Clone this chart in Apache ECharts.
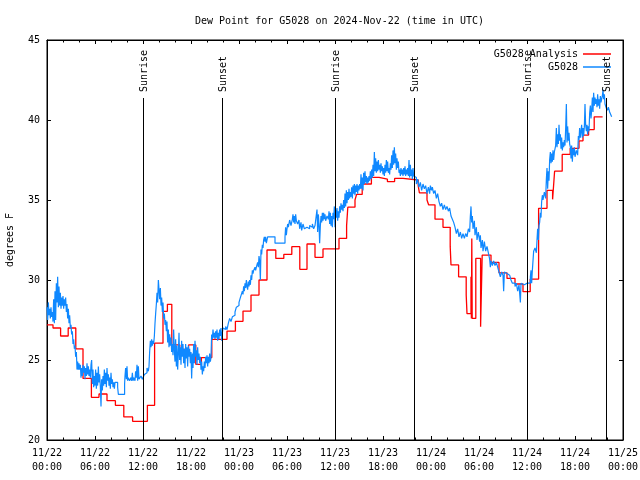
<!DOCTYPE html>
<html>
<head>
<meta charset="utf-8">
<script src="https://cdn.jsdelivr.net/npm/echarts@6/dist/echarts.min.js"></script>
<style>html,body{margin:0;padding:0;background:#fff}#c{width:640px;height:480px}</style>
</head>
<body>
<div id="c"></div>
<script>
// hours since 2024-11-22 00:00 UTC
const xTickLabels = ['11/22\n00:00','11/22\n06:00','11/22\n12:00','11/22\n18:00','11/23\n00:00','11/23\n06:00','11/23\n12:00','11/23\n18:00','11/24\n00:00','11/24\n06:00','11/24\n12:00','11/24\n18:00','11/25\n00:00'];
const seriesNames = ['G5028 Analysis', 'G5028'];
const sunHours = [12.0, 21.875, 36.0, 45.875, 60.0, 69.875];
const sunNames = ['Sunrise', 'Sunset', 'Sunrise', 'Sunset', 'Sunrise', 'Sunset'];

const analysisPts = [
[0,27.2],[0.75,27.0],[1.7,26.5],[2.65,27.0],[3.6,25.7],[4.5,23.85],[5.55,22.67],[6.5,22.875],[7.5,22.46],[8.55,22.17],[9.6,21.44],[10.7,21.17],
[12.55,22.17],[13.45,26.05],[14.5,28.04],[15.05,28.48],[15.6,25.94],[16.6,25.67],[17.7,25.94],[18.6,24.73],[19.3,25.15],[20.6,26.29],
[22.5,26.81],[23.55,27.42],[24.5,28.06],[25.5,29.06],[26.5,30.0],[27.5,31.875],[28.6,31.35],[29.6,31.6],[30.6,32.08],[31.6,30.67],
[32.5,32.25],[33.5,31.42],[34.5,31.94],[36.5,32.6],[37.45,33.4],[37.6,34.55],[38.5,35.0],[38.7,35.35],[39.4,36.0],[40.55,36.42],
[41.5,36.3],[42.55,36.15],[43.45,36.35],[44.5,36.25],[46.4,35.9],[46.55,35.45],[47.5,35.0],[47.7,34.7],[48.5,33.8],[49.5,33.29],
[50.4,32.1],[50.5,30.94],[51.45,30.2],[52.4,29.06],[52.5,27.9],[53.0,30.2],[53.05,27.6],[53.1,32.6],[53.15,27.6],[53.6,31.35],
[54.2,27.08],[54.4,31.56],[55.5,31.1],[56.5,30.45],[57.5,30.1],[58.5,29.75],[59.5,29.27],[60.4,30.06],[61.45,34.48],[62.5,35.6],
[63.2,35.04],[63.45,36.8],[64.4,37.85],[65.4,38.23],[66.5,38.7],[67.0,39.06],[67.7,39.4],[68.4,40.2],[69.45,40.2]
];

const obsPts = [
[0.00,28.3],[0.08,27.5],[0.17,28.6],[0.25,27.8],[0.33,28.2],[0.42,27.6],[0.50,28.3],[0.58,27.7],[0.67,28.0],[0.75,27.4],[0.83,28.8],[0.92,27.3],
[1.00,29.3],[1.08,27.5],[1.17,29.8],[1.25,28.6],[1.33,30.2],[1.42,28.3],[1.50,29.6],[1.58,28.4],[1.67,29.2],[1.75,28.2],[1.83,28.9],[1.92,28.4],
[2.00,29.0],[2.08,28.2],[2.17,28.8],[2.25,28.4],[2.33,28.9],[2.42,28.0],[2.50,28.5],[2.58,27.6],[2.67,28.2],[2.75,27.3],[2.83,27.8],[2.92,27.0],
[3.00,27.2],[3.08,26.6],[3.17,26.8],[3.25,26.0],[3.33,26.3],[3.42,25.7],[3.50,25.9],[3.58,25.2],[3.67,25.5],[3.75,24.4],[3.83,24.9],[3.92,24.4],
[4.00,24.8],[4.08,24.4],[4.17,24.7],[4.25,23.9],[4.33,24.5],[4.42,24.0],[4.50,24.7],[4.58,24.2],[4.67,24.6],[4.75,23.8],[4.83,24.5],[4.92,24.0],
[5.00,24.8],[5.08,24.1],[5.17,24.6],[5.25,24.0],[5.33,24.4],[5.42,23.9],[5.50,24.7],[5.58,25.0],[5.67,23.5],[5.75,24.4],[5.83,23.3],[5.92,24.0],
[6.00,23.4],[6.08,24.4],[6.17,23.2],[6.25,24.2],[6.33,23.4],[6.42,24.6],[6.50,23.6],[6.58,24.1],[6.67,23.3],[6.75,22.1],[6.83,23.8],[6.92,23.1],
[7.00,24.0],[7.08,23.4],[7.17,24.4],[7.25,23.5],[7.33,24.2],[7.42,23.3],[7.50,24.5],[7.58,23.7],[7.67,24.1],[7.75,23.4],[7.83,23.9],[7.92,23.2],
[8.00,24.2],[8.08,23.5],[8.17,23.8],[8.25,23.3],[8.33,23.6],[8.42,23.2],[8.50,23.6],[8.58,23.5],[8.67,23.6],[8.83,23.3],[8.92,22.85],
[9.70,23.5],[9.75,24.0],[9.83,24.5],[9.92,23.8],[10.00,24.6],[10.08,23.7],[10.17,23.9],[10.33,23.7],[10.50,23.9],[10.58,23.7],[10.67,24.2],[10.75,23.7],[10.83,23.9],
[11.00,23.7],[11.08,24.3],[11.17,23.9],[11.25,24.7],[11.33,23.7],[11.42,24.6],[11.50,23.8],[11.58,23.7],[11.75,24.0],[11.92,23.8],
[12.00,23.9],[12.17,24.1],[12.33,24.2],[12.50,24.5],[12.67,24.3],[12.75,24.6],[12.83,25.5],[12.92,26.2],
[13.00,25.8],[13.08,26.3],[13.17,25.9],[13.25,26.2],[13.33,26.0],[13.42,26.5],[13.50,27.3],[13.58,27.9],[13.67,28.5],[13.75,29.2],[13.83,28.6],[13.92,30.0],
[14.00,29.4],[14.08,28.8],[14.17,29.5],[14.25,28.4],[14.33,28.9],[14.42,28.0],[14.50,28.6],[14.58,27.6],[14.67,27.9],[14.75,27.2],[14.83,27.5],[14.92,26.8],
[15.00,27.4],[15.08,26.1],[15.17,26.9],[15.25,25.8],[15.33,26.6],[15.42,25.9],[15.50,26.4],[15.58,25.5],[15.67,26.0],[15.75,25.3],[15.83,26.9],[15.92,25.6],
[16.00,24.9],[16.08,26.3],[16.17,24.6],[16.25,25.9],[16.33,24.4],[16.42,25.4],[16.50,26.7],[16.58,25.0],[16.67,25.8],[16.75,24.7],[16.83,26.2],[16.92,25.2],
[17.00,26.0],[17.08,24.8],[17.17,25.7],[17.25,24.5],[17.33,26.0],[17.42,25.1],[17.50,25.8],[17.58,24.6],[17.67,25.9],[17.75,25.2],[17.83,25.7],[17.92,24.8],
[18.00,25.5],[18.08,23.85],[18.17,25.4],[18.25,24.5],[18.33,26.0],[18.42,24.8],[18.50,26.2],[18.58,25.2],[18.67,25.6],[18.75,24.7],[18.83,25.8],[18.92,25.0],
[19.00,25.4],[19.08,24.8],[19.17,25.2],[19.25,24.4],[19.33,24.9],[19.42,24.1],[19.50,24.6],[19.58,24.3],[19.67,24.9],[19.75,24.5],[19.83,25.2],[19.92,24.8],
[20.00,25.3],[20.08,24.6],[20.17,25.2],[20.25,24.8],[20.33,25.4],[20.42,24.9],[20.50,25.2],[20.58,26.6],[20.67,26.3],[20.75,26.9],[20.83,26.4],[20.92,26.7],
[21.00,26.3],[21.08,26.8],[21.17,26.4],[21.25,26.9],[21.33,26.2],[21.42,26.7],[21.50,26.3],[21.58,26.9],[21.67,26.5],[21.75,27.0],[21.83,26.2],[21.92,26.7],
[22.00,27.0],[22.17,26.9],[22.33,27.1],[22.50,26.9],[22.67,27.3],[22.83,27.6],[23.00,27.4],[23.17,27.7],[23.33,27.8],[23.50,28.0],[23.67,28.3],[23.83,28.4],
[24.00,28.6],[24.08,28.5],[24.17,28.9],[24.25,28.8],[24.33,29.0],[24.42,29.3],[24.50,29.1],[24.58,29.6],[24.67,29.3],[24.75,29.8],[24.83,29.5],[24.92,30.0],
[25.00,29.6],[25.08,29.4],[25.17,29.9],[25.25,29.6],[25.33,30.0],[25.42,29.7],[25.50,30.3],[25.58,30.0],[25.67,30.6],[25.75,30.4],[25.83,30.6],[25.92,30.5],
[26.00,30.8],[26.08,30.6],[26.17,30.8],[26.25,30.7],[26.33,31.1],[26.42,30.8],[26.50,31.5],[26.58,31.2],[26.67,30.0],[26.75,31.9],[26.83,31.6],[26.92,32.2],
[27.00,32.0],[27.08,32.5],[27.17,32.7],[27.25,32.4],[27.33,32.7],[27.42,32.3],[27.50,32.5],[27.58,32.7],[28.00,32.7],[28.50,32.3],
[29.75,32.7],[29.83,33.3],[29.92,32.8],[30.00,33.2],[30.08,33.5],[30.17,33.3],[30.33,33.75],[30.50,33.4],[30.67,33.8],[30.75,34.1],[30.83,33.6],[30.92,34.0],
[31.00,33.5],[31.08,34.1],[31.17,33.7],[31.33,33.5],[31.50,33.75],[31.58,33.2],[31.75,33.6],[31.83,33.1],[32.00,33.5],[32.17,33.2],[32.33,33.3],[32.50,33.4],
[32.67,33.2],[32.83,33.4],[33.00,33.3],[33.17,33.5],[33.33,33.2],[33.50,33.4],[33.67,33.3],[33.75,34.4],[33.83,33.0],[33.92,34.1],
[34.00,33.5],[34.08,32.3],[34.17,33.4],[34.25,34.0],[34.33,33.6],[34.42,34.2],[34.50,33.7],[34.58,34.2],[34.67,33.8],[34.75,34.1],[34.83,33.7],
[35.00,34.0],[35.17,33.8],[35.25,34.3],[35.33,33.5],[35.42,34.2],[35.50,33.4],[35.58,34.0],[35.67,33.3],[35.75,34.2],[35.83,33.8],[35.92,34.6],
[36.00,33.3],[36.08,34.4],[36.17,33.9],[36.25,34.5],[36.33,33.7],[36.42,34.3],[36.50,33.9],[36.58,34.6],[36.67,34.2],[36.75,34.8],[36.83,34.4],[36.92,34.7],
[37.00,34.3],[37.08,35.0],[37.17,34.5],[37.25,35.4],[37.33,34.6],[37.42,35.6],[37.50,34.8],[37.58,35.5],[37.67,35.0],[37.75,35.7],[37.83,35.1],[37.92,35.5],
[38.00,35.2],[38.08,35.8],[38.17,35.1],[38.25,35.9],[38.33,35.4],[38.42,36.0],[38.50,35.3],[38.58,35.9],[38.67,35.5],[38.75,36.0],[38.83,35.4],[38.92,35.9],
[39.00,35.6],[39.08,36.0],[39.17,35.7],[39.25,36.6],[39.33,35.7],[39.42,36.4],[39.50,35.6],[39.58,36.7],[39.67,36.0],[39.75,36.8],[39.83,36.1],[39.92,36.5],
[40.00,36.0],[40.08,36.4],[40.17,36.1],[40.25,36.5],[40.33,36.2],[40.42,36.8],[40.50,36.3],[40.58,36.9],[40.67,36.4],[40.75,37.2],[40.83,36.5],[40.92,38.0],
[41.00,36.8],[41.08,37.6],[41.17,36.7],[41.25,37.4],[41.33,36.8],[41.42,37.5],[41.50,36.9],[41.58,37.2],[41.67,36.7],[41.75,37.3],[41.83,36.8],[41.92,37.1],
[42.00,36.6],[42.08,37.0],[42.17,36.5],[42.25,37.2],[42.33,36.7],[42.42,37.5],[42.50,36.8],[42.58,37.4],[42.67,36.7],[42.75,37.0],[42.83,36.6],[42.92,37.3],
[43.00,36.9],[43.08,37.8],[43.17,37.0],[43.25,38.1],[43.33,37.2],[43.42,38.3],[43.50,37.3],[43.58,37.9],[43.67,36.9],[43.75,37.6],[43.83,37.0],[43.92,37.4],
[44.00,36.7],[44.08,36.9],[44.17,36.5],[44.25,37.0],[44.33,36.6],[44.42,36.9],[44.50,36.5],[44.58,37.0],[44.67,36.6],[44.75,37.1],[44.83,36.5],[44.92,36.9],
[45.00,36.6],[45.08,37.0],[45.17,36.5],[45.25,37.5],[45.33,36.4],[45.42,37.2],[45.50,36.5],[45.58,36.9],[45.67,36.3],[45.75,37.0],[45.83,36.5],
[46.00,36.4],[46.17,36.0],[46.33,36.3],[46.50,35.8],[46.67,36.1],[46.83,35.6],[47.00,36.0],[47.17,35.7],[47.33,35.9],[47.50,35.4],[47.67,35.8],[47.83,35.4],[47.92,35.9],
[48.00,36.0],[48.08,35.6],[48.17,35.8],[48.33,35.4],[48.50,35.6],[48.67,35.1],[48.83,35.4],[49.00,34.9],[49.17,34.6],[49.33,34.8],[49.50,34.4],[49.67,34.7],[49.83,34.4],
[50.00,34.6],[50.17,34.3],[50.33,34.5],[50.50,34.0],[50.67,33.8],[50.83,33.6],[51.00,33.3],[51.17,32.9],[51.33,33.2],[51.50,32.7],[51.67,33.0],[51.83,32.6],
[52.00,32.9],[52.17,32.6],[52.33,32.9],[52.50,32.7],[52.67,33.2],[52.83,33.0],[52.92,34.0],[53.00,34.6],[53.08,33.6],[53.17,34.0],[53.25,33.2],[53.42,33.7],
[53.50,32.8],[53.67,33.3],[53.75,32.5],[53.92,33.0],[54.08,32.4],[54.17,32.8],[54.25,32.0],[54.42,32.5],[54.50,31.8],[54.67,32.4],[54.83,31.8],
[55.00,32.1],[55.17,31.7],[55.33,31.3],[55.42,30.8],[55.50,31.2],[55.67,30.9],[55.83,31.2],[56.00,30.9],[56.17,31.1],[56.33,30.8],[56.50,30.5],[56.67,30.2],[56.83,30.5],
[57.00,30.3],[57.08,29.3],[57.17,30.5],[57.33,30.4],[57.50,30.5],[57.67,30.3],[57.83,30.4],[58.00,30.0],[58.17,29.8],[58.33,29.8],[58.50,29.6],[58.67,29.8],[58.83,29.3],
[59.00,29.7],[59.17,28.6],[59.25,29.8],[59.50,29.7],[59.67,29.8],[60.00,29.7],[60.25,29.8],[60.42,30.2],[60.50,30.6],[60.58,29.8],[60.67,30.6],[60.83,31.8],
[61.00,32.0],[61.17,31.7],[61.25,32.5],[61.33,33.2],[61.42,32.5],[61.50,33.4],[61.58,33.6],[61.67,34.2],[61.75,33.9],[61.83,34.9],[61.92,35.3],
[62.00,35.0],[62.17,35.5],[62.33,35.1],[62.42,36.3],[62.50,37.0],[62.58,35.7],[62.67,36.8],[62.75,36.2],[62.83,37.5],[62.92,38.0],
[63.00,37.3],[63.08,37.9],[63.17,37.4],[63.25,38.1],[63.33,37.5],[63.42,38.0],[63.58,38.4],[63.67,39.5],[63.75,38.3],[63.83,39.1],[63.92,38.5],
[64.00,39.7],[64.08,38.7],[64.17,39.1],[64.25,38.2],[64.33,38.9],[64.42,38.1],[64.50,38.6],[64.58,38.3],[64.67,38.75],[64.75,38.4],[64.83,39.4],[64.92,41.0],
[65.00,38.6],[65.08,39.6],[65.17,38.7],[65.25,39.2],[65.33,38.5],[65.42,38.3],[65.50,37.6],[65.58,38.4],[65.67,37.4],[65.75,38.2],[65.83,37.8],[65.92,38.3],
[66.00,37.7],[66.17,38.1],[66.33,37.8],[66.42,39.0],[66.50,38.75],[66.58,39.5],[66.67,38.9],[66.75,39.3],[66.83,39.7],[66.92,38.9],
[67.00,39.5],[67.08,39.0],[67.17,39.6],[67.25,41.0],[67.33,39.7],[67.42,39.3],[67.50,39.7],[67.58,39.1],[67.67,39.6],[67.75,39.3],[67.83,40.4],[67.92,40.9],
[68.00,40.1],[68.08,40.6],[68.17,41.4],[68.25,40.5],[68.33,41.7],[68.42,40.9],[68.50,41.4],[68.58,41.0],[68.67,41.3],[68.75,40.8],[68.83,41.6],[68.92,40.9],
[69.00,41.3],[69.08,40.7],[69.17,41.5],[69.25,41.1],[69.33,41.3],[69.42,41.5],[69.50,41.9],[69.58,41.3],[69.67,41.6],[69.75,41.0],[69.83,40.9],
[70.00,40.6],[70.17,40.8],[70.33,40.5],[70.42,40.4],[70.58,40.2]
];

const FONT = '"DejaVu Sans Mono", "Liberation Mono", monospace';
const RED = '#ff0000';
const BLUE = '#0f88ff';
const SUN_LINE_TOP = 41.375; // degrees F level where the marker lines start

const chart = echarts.init(document.getElementById('c'), null, {renderer: 'canvas'});

const txt = {fontFamily: FONT, fontSize: 10, color: '#000'};
const tickStyle = {lineStyle: {color: '#000', width: 1}};

function xAxisBase(pos, showLabel) {
  return {
    type: 'value', position: pos, min: 0, max: 72, interval: 6,
    axisLine: {show: true, onZero: false, lineStyle: {color: '#000', width: 1}},
    axisTick: Object.assign({show: true, inside: true, length: 4}, tickStyle),
    minorTick: Object.assign({show: true, splitNumber: 3, length: 2.5}, tickStyle),
    splitLine: {show: false},
    axisLabel: showLabel ? Object.assign({
      formatter: v => xTickLabels[Math.round(v / 6)] || '',
      lineHeight: 14, margin: 6
    }, txt) : {show: false}
  };
}
function yAxisBase(pos, showLabel) {
  const a = {
    type: 'value', position: pos, min: 20, max: 45, interval: 5,
    axisLine: {show: true, onZero: false, lineStyle: {color: '#000', width: 1}},
    axisTick: Object.assign({show: true, inside: true, length: 4}, tickStyle),
    splitLine: {show: false},
    axisLabel: showLabel ? Object.assign({margin: 7}, txt) : {show: false}
  };
  if (showLabel) {
    a.name = 'degrees F';
    a.nameLocation = 'middle';
    a.nameRotate = 90;
    a.nameGap = 32;
    a.nameTextStyle = Object.assign({}, txt);
  }
  return a;
}

const option = {
  animation: false,
  backgroundColor: '#fff',
  title: {
    text: 'Dew Point for G5028 on 2024-Nov-22 (time in UTC)',
    left: 190, top: 11,
    textStyle: {fontFamily: FONT, fontSize: 10, fontWeight: 'normal', color: '#000'}
  },
  grid: {left: 47, right: 17, top: 40, bottom: 40, show: true, borderColor: '#000', borderWidth: 1,
         containLabel: false, outerBoundsMode: 'none'},
  legend: [
    {data: [seriesNames[0]], right: 24, top: 44, align: 'right', icon: 'rect', itemWidth: 28, itemHeight: 1.5,
     textStyle: Object.assign({}, txt), selectedMode: false},
    {data: [seriesNames[1]], right: 24, top: 57, align: 'right', icon: 'rect', itemWidth: 28, itemHeight: 1.5,
     textStyle: Object.assign({}, txt), selectedMode: false}
  ],
  xAxis: [xAxisBase('bottom', true), xAxisBase('top', false)],
  yAxis: [yAxisBase('left', true), yAxisBase('right', false)],
  series: [
    {
      name: seriesNames[0], type: 'line', step: 'end', data: analysisPts, showSymbol: false, symbol: 'none',
      lineStyle: {color: RED, width: 1.3}, itemStyle: {color: RED}, z: 3
    },
    {
      name: seriesNames[1], type: 'line', step: 'end', data: obsPts, showSymbol: false, symbol: 'none',
      lineStyle: {color: BLUE, width: 1.2}, itemStyle: {color: BLUE}, z: 4
    },
    {
      name: 'sun', type: 'custom', data: sunHours.map(h => [h]), encode: {x: 0}, z: 5, clip: false,
      renderItem: function (params, api) {
        const h = api.value(0);
        const top = api.coord([h, SUN_LINE_TOP]);
        const bot = api.coord([h, 20]);
        const x = Math.round(top[0]) + 0.5;
        return {
          type: 'group',
          children: [
            {type: 'line', shape: {x1: x, y1: top[1], x2: x, y2: bot[1]}, style: {stroke: '#000', lineWidth: 1}},
            {type: 'text', x: x + 1, y: top[1] - 6, rotation: Math.PI / 2,
             style: {text: sunNames[params.dataIndex], fontFamily: FONT, fontSize: 10, fill: '#000', align: 'left', verticalAlign: 'middle'}}
          ]
        };
      }
    }
  ]
};
chart.setOption(option);
</script>
</body>
</html>
